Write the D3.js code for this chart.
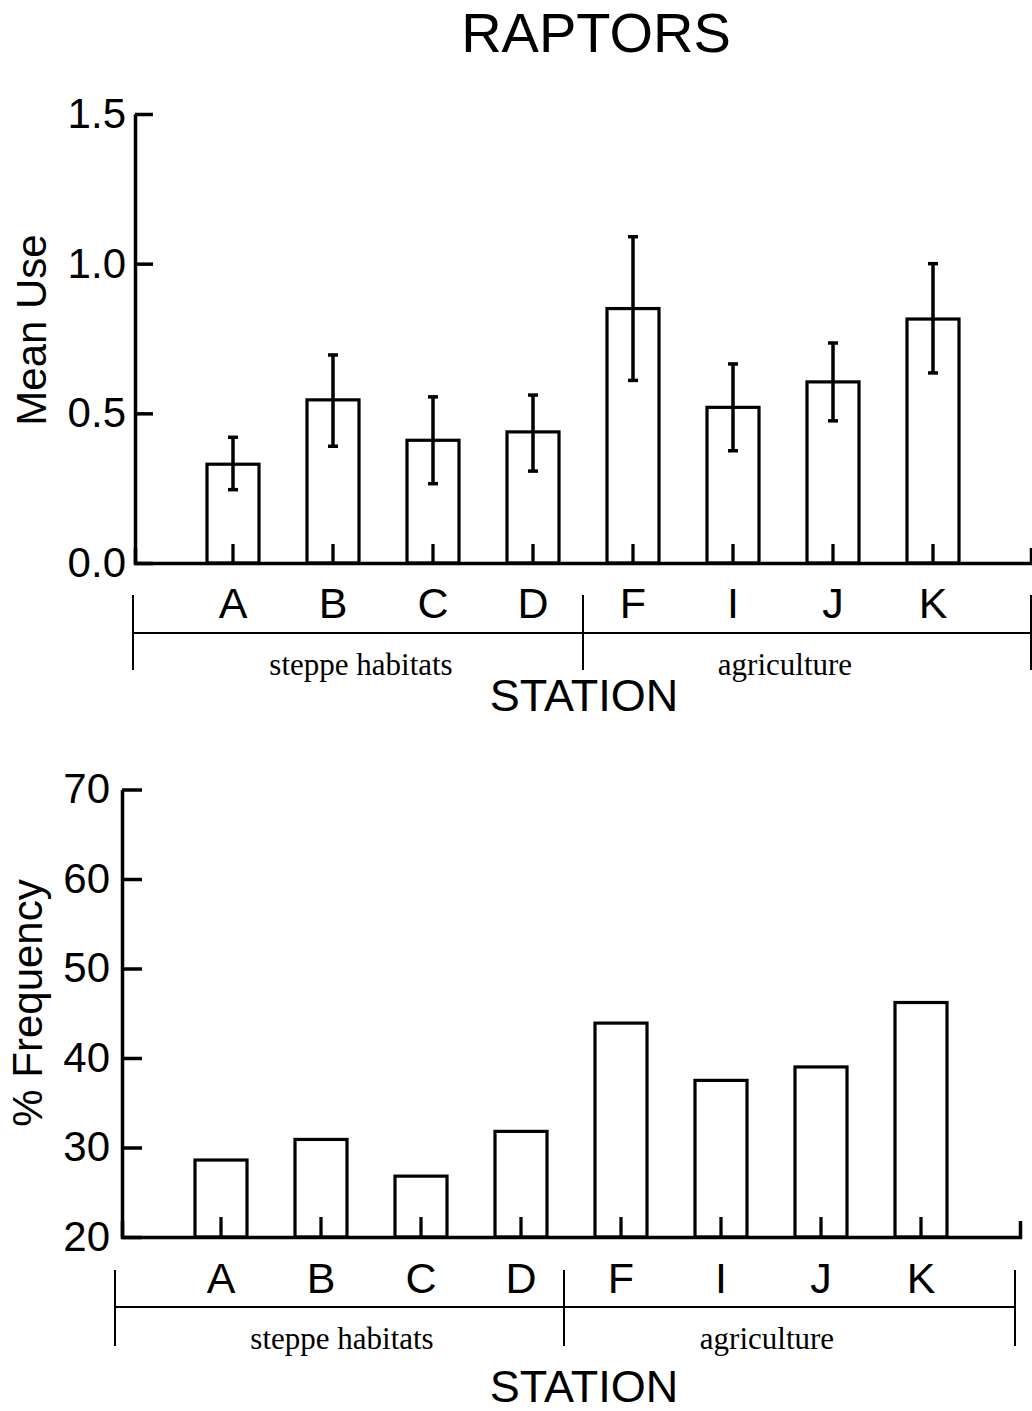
<!DOCTYPE html>
<html>
<head>
<meta charset="utf-8">
<script src="https://cdn.jsdelivr.net/npm/d3@7"></script>
<style>
  body { margin: 0; background: #fff; }
  text { font-family: "Liberation Sans", Arial, sans-serif; fill: #000; }
  .serif { font-family: "Liberation Serif", "Times New Roman", serif; }
</style>
</head>
<body>
<svg id="chart"></svg>
<script>
const stations = ["A", "B", "C", "D", "F", "I", "J", "K"];
const meanUse = [0.33, 0.545, 0.41, 0.438, 0.85, 0.52, 0.605, 0.815];
const meanUseLow = [0.245, 0.39, 0.265, 0.307, 0.61, 0.375, 0.475, 0.635];
const meanUseHigh = [0.42, 0.695, 0.555, 0.561, 1.09, 0.665, 0.735, 1.0];
const pctFrequency = [28.6, 30.9, 26.8, 31.8, 43.9, 37.5, 39.0, 46.2];
const meanUseTicks = [0, 0.5, 1.0, 1.5];
const freqTicks = [20, 30, 40, 50, 60, 70];
const groupLabels = ["steppe habitats", "agriculture"];

const W = 1032, H = 1411;
const svg = d3.select("#chart").attr("width", W).attr("height", H);

svg.append("text")
    .attr("x", 596).attr("y", 52)
    .attr("text-anchor", "middle")
    .style("font-size", "56px")
    .text("RAPTORS");

function drawPanel(p) {
    const g = svg.append("g");
    const x = d3.scaleBand()
        .domain(stations)
        .range([p.left, p.right])
        .paddingInner(0.48)
        .paddingOuter(p.outer);
    const y = d3.scaleLinear()
        .domain(p.domain)
        .range([p.bottom, p.top]);

    // bars
    g.selectAll("rect.bar")
        .data(p.values)
        .enter().append("rect")
        .attr("class", "bar")
        .attr("x", (d, i) => x(stations[i]))
        .attr("width", x.bandwidth())
        .attr("y", d => y(d))
        .attr("height", d => y(p.domain[0]) - y(d))
        .attr("fill", "#fff")
        .attr("stroke", "#000")
        .attr("stroke-width", 3.2);

    // error bars
    if (p.low) {
        const eb = g.selectAll("g.err")
            .data(p.low.map((lo, i) => ({lo: lo, hi: p.high[i], s: stations[i]})))
            .enter().append("g")
            .attr("transform", d => `translate(${x(d.s) + x.bandwidth() / 2},0)`)
            .attr("stroke", "#000")
            .attr("stroke-width", 3.5);
        eb.append("line").attr("y1", d => y(d.lo)).attr("y2", d => y(d.hi));
        eb.append("line").attr("x1", -5).attr("x2", 5).attr("y1", d => y(d.hi)).attr("y2", d => y(d.hi));
        eb.append("line").attr("x1", -5).attr("x2", 5).attr("y1", d => y(d.lo)).attr("y2", d => y(d.lo));
    }

    // x axis
    const xAxis = g.append("g")
        .attr("transform", `translate(0,${p.bottom})`)
        .call(d3.axisBottom(x).tickSizeInner(-p.xTick).tickSizeOuter(-p.xTick + 4).tickPadding(p.xPad));
    xAxis.select(".domain").attr("stroke-width", 3.5);
    xAxis.selectAll(".tick line").attr("stroke-width", 3.3);
    xAxis.selectAll(".tick text")
        .style("font-family", "Liberation Sans, Arial, sans-serif")
        .style("font-size", "43px")
        .attr("fill", "#000");

    // y axis
    const yAxis = g.append("g")
        .attr("transform", `translate(${p.left},0)`)
        .call(d3.axisLeft(y).tickValues(p.ticks).tickFormat(p.fmt)
            .tickSizeInner(-p.yTick).tickSizeOuter(0).tickPadding(p.yPad));
    yAxis.select(".domain").attr("stroke-width", 3.5);
    yAxis.selectAll(".tick line").attr("stroke-width", 3.5);
    yAxis.selectAll(".tick text")
        .style("font-family", "Liberation Sans, Arial, sans-serif")
        .style("font-size", "42px")
        .attr("fill", "#000");

    // y title
    svg.append("text")
        .attr("transform", `translate(${p.yTitleX},${p.yTitleY}) rotate(-90)`)
        .attr("text-anchor", "middle")
        .style("font-size", "42px")
        .text(p.yTitle);

    // habitat brackets
    const b = p.bracket;
    const br = svg.append("g").attr("stroke", "#000").attr("stroke-width", 2);
    br.append("line").attr("x1", b.xs[0]).attr("x2", b.xs[2]).attr("y1", b.mid).attr("y2", b.mid);
    b.xs.forEach(v => {
        br.append("line").attr("x1", v).attr("x2", v).attr("y1", b.y0).attr("y2", b.y1);
    });
    groupLabels.forEach((t, i) => {
        svg.append("text")
            .attr("class", "serif")
            .attr("x", b.labelX[i]).attr("y", b.labelY)
            .attr("text-anchor", "middle")
            .style("font-size", "31px")
            .text(t);
    });

    svg.append("text")
        .attr("x", 584).attr("y", p.stationY)
        .attr("text-anchor", "middle")
        .style("font-size", "45px")
        .text("STATION");
}

drawPanel({
    values: meanUse, low: meanUseLow, high: meanUseHigh,
    domain: [0, 1.5], ticks: meanUseTicks, fmt: d3.format(".1f"),
    left: 135, right: 1031, outer: 0.72, top: 114, bottom: 563,
    xTick: 19, xPad: 24, yTick: 18, yPad: 9,
    yTitle: "Mean Use", yTitleX: 46, yTitleY: 330,
    bracket: {xs: [133, 583, 1031], y0: 595, y1: 670, mid: 633, labelX: [361, 785], labelY: 675},
    stationY: 711
});

drawPanel({
    values: pctFrequency,
    domain: [20, 70], ticks: freqTicks, fmt: d3.format("d"),
    left: 122, right: 1020, outer: 0.73, top: 789.5, bottom: 1237,
    xTick: 20, xPad: 25, yTick: 20, yPad: 12,
    yTitle: "% Frequency", yTitleX: 42, yTitleY: 1003,
    bracket: {xs: [115, 564, 1015], y0: 1270, y1: 1346, mid: 1307, labelX: [342, 767], labelY: 1349},
    stationY: 1402
});
</script>
</body>
</html>
